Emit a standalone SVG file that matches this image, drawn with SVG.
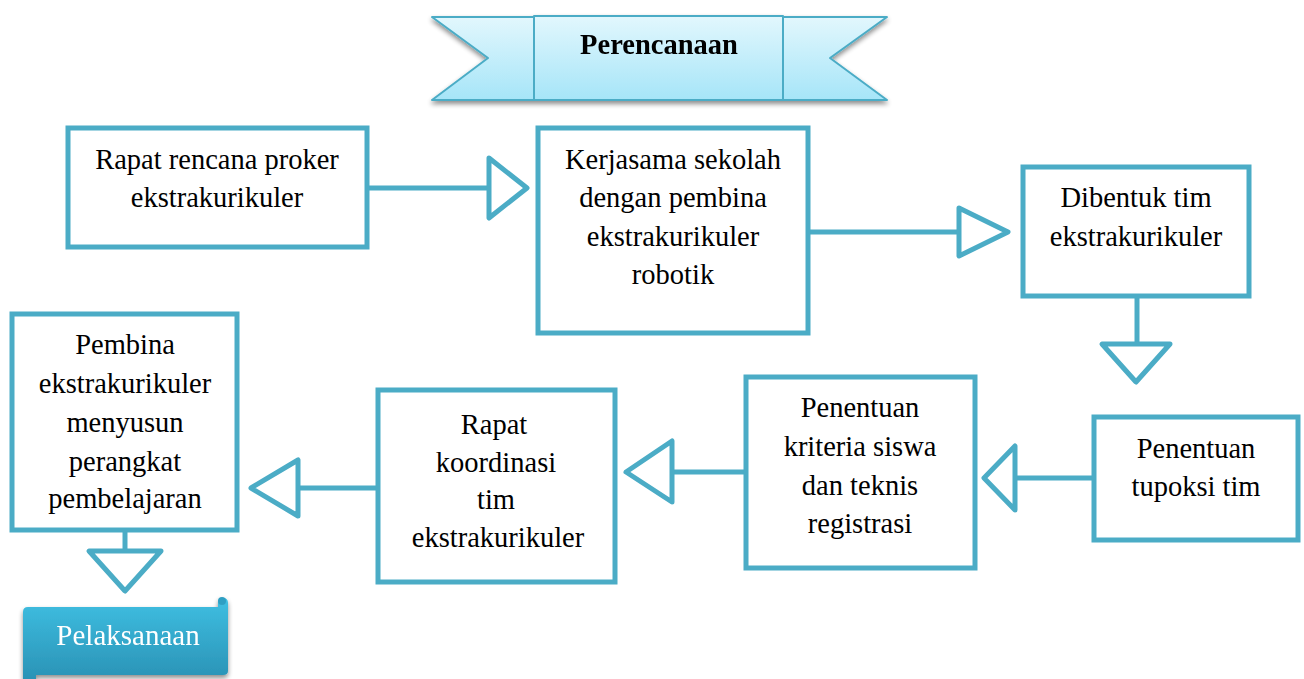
<svg xmlns="http://www.w3.org/2000/svg" width="1304" height="679" viewBox="0 0 1304 679">
  <defs>
    <linearGradient id="bannerFill" x1="0" y1="0" x2="0" y2="1">
      <stop offset="0" stop-color="#E2F7FD"/>
      <stop offset="1" stop-color="#A6E5F8"/>
    </linearGradient>
    <linearGradient id="scrollFill" x1="0" y1="0" x2="0" y2="1">
      <stop offset="0" stop-color="#3FBFE2"/>
      <stop offset="1" stop-color="#2A93B6"/>
    </linearGradient>
    <filter id="shadow" x="-10%" y="-20%" width="120%" height="150%">
      <feGaussianBlur in="SourceAlpha" stdDeviation="2.5"/>
      <feOffset dx="0" dy="3" result="b"/>
      <feComponentTransfer><feFuncA type="linear" slope="0.45"/></feComponentTransfer>
      <feMerge><feMergeNode/><feMergeNode in="SourceGraphic"/></feMerge>
    </filter>
  </defs>
  <style>
    .box { fill: #FFFFFF; stroke: #4BACC6; stroke-width: 5; }
    .lbl { font-family: "Liberation Serif", "Times New Roman", serif; font-size: 28.5px; fill: #000000; text-anchor: middle; }
    .conn { fill: none; stroke: #4BACC6; stroke-width: 5; stroke-linejoin: round; }
    .head { fill: #FFFFFF; stroke: #4BACC6; stroke-width: 5; stroke-linejoin: round; }
    .ribbon { fill: url(#bannerFill); stroke: #4BACC6; stroke-width: 2; stroke-linejoin: round; }
  </style>

  <!-- title ribbon -->
  <g id="title-perencanaan" filter="url(#shadow)">
    <polygon class="ribbon" points="432,17 540,17 540,100 432,100 488,58"/>
    <polygon class="ribbon" points="887,17 778,17 778,100 887,100 830,58"/>
    <rect class="ribbon" x="534" y="16" width="249" height="84"/>
    <text x="659" y="54" class="lbl" font-weight="bold" font-size="29.5">Perencanaan</text>
  </g>

  <!-- connectors -->
  <g id="connectors">
    <line class="conn" x1="367" y1="188" x2="489" y2="188"/>
    <polygon class="head" points="489,158 527,188 489,218"/>
    <line class="conn" x1="808" y1="232" x2="959" y2="232"/>
    <polygon class="head" points="959,208 1008,232 959,256"/>
    <line class="conn" x1="1137" y1="296" x2="1137" y2="344"/>
    <polygon class="head" points="1102,344 1170,344 1136,382"/>
    <line class="conn" x1="1094" y1="478" x2="1015" y2="478"/>
    <polygon class="head" points="1015,446 1015,510 984,478"/>
    <line class="conn" x1="746" y1="472" x2="672" y2="472"/>
    <polygon class="head" points="672,441 672,502 626,472"/>
    <line class="conn" x1="378" y1="488" x2="298" y2="488"/>
    <polygon class="head" points="298,460 298,516 251,488"/>
    <line class="conn" x1="125" y1="530" x2="125" y2="551"/>
    <polygon class="head" points="89,551 161,551 125,591"/>
  </g>

  <g id="node-rapat-rencana">
    <rect class="box" x="68" y="128" width="299" height="119"/>
    <text class="lbl" x="217" y="169">Rapat rencana proker</text>
    <text class="lbl" x="217" y="207">ekstrakurikuler</text>
  </g>

  <g id="node-kerjasama">
    <rect class="box" x="538" y="128" width="270" height="205"/>
    <text class="lbl" x="673" y="169">Kerjasama sekolah</text>
    <text class="lbl" x="673" y="207">dengan pembina</text>
    <text class="lbl" x="673" y="246">ekstrakurikuler</text>
    <text class="lbl" x="673" y="284">robotik</text>
  </g>

  <g id="node-dibentuk-tim">
    <rect class="box" x="1023" y="167" width="226" height="129"/>
    <text class="lbl" x="1136" y="207">Dibentuk tim</text>
    <text class="lbl" x="1136" y="246">ekstrakurikuler</text>
  </g>

  <g id="node-tupoksi">
    <rect class="box" x="1094" y="417" width="204" height="123"/>
    <text class="lbl" x="1196" y="458">Penentuan</text>
    <text class="lbl" x="1196" y="496">tupoksi tim</text>
  </g>

  <g id="node-kriteria">
    <rect class="box" x="746" y="377" width="229" height="191"/>
    <text class="lbl" x="860" y="417">Penentuan</text>
    <text class="lbl" x="860" y="456">kriteria siswa</text>
    <text class="lbl" x="860" y="495">dan teknis</text>
    <text class="lbl" x="860" y="533">registrasi</text>
  </g>

  <g id="node-rapat-koordinasi">
    <rect class="box" x="378" y="390" width="237" height="192"/>
    <text class="lbl" x="494" y="434">Rapat</text>
    <text class="lbl" x="496" y="472">koordinasi</text>
    <text class="lbl" x="496" y="509">tim</text>
    <text class="lbl" x="498" y="547">ekstrakurikuler</text>
  </g>

  <g id="node-pembina">
    <rect class="box" x="12" y="314" width="225" height="216"/>
    <text class="lbl" x="125" y="354">Pembina</text>
    <text class="lbl" x="125" y="393">ekstrakurikuler</text>
    <text class="lbl" x="125" y="432">menyusun</text>
    <text class="lbl" x="125" y="471">perangkat</text>
    <text class="lbl" x="125" y="508">pembelajaran</text>
  </g>

  <!-- scroll label at the bottom -->
  <g id="node-pelaksanaan" filter="url(#shadow)">
    <path d="M23,612 Q23,607 28,607 L218,607 L218,603 Q218,598 223,598 Q228,598 228,603 L228,671 Q228,675 223,675 L36,675 L36,679 L23,679 Z" fill="url(#scrollFill)"/>
    <circle cx="222" cy="601" r="4" fill="#2F9FC3"/>
    <text x="128" y="645" font-family="Liberation Serif, Times New Roman, serif" font-size="29" fill="#FFFFFF" text-anchor="middle">Pelaksanaan</text>
  </g>
</svg>
